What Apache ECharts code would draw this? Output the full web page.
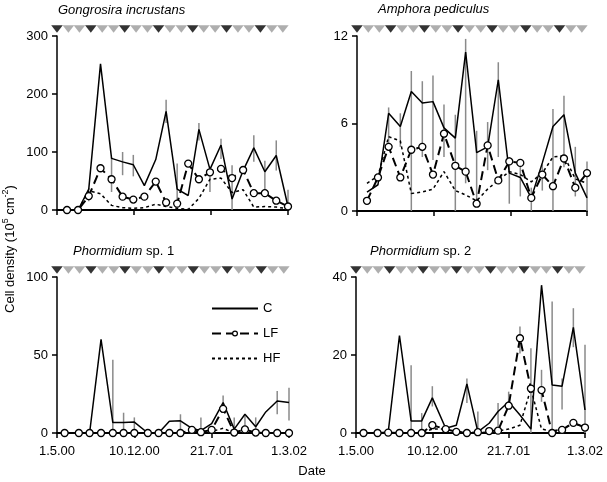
<!DOCTYPE html>
<html>
<head>
<meta charset="utf-8">
<script src="https://cdn.jsdelivr.net/npm/echarts@6/dist/echarts.min.js"></script>
<style>html,body{margin:0;padding:0;background:#fff}#c{width:607px;height:482px}</style>
</head>
<body>
<div id="c"></div>
<script>
// ---- data ----
const tickDays = [0, 223, 446, 669];
const tickLabels = ['1.5.00', '10.12.00', '21.7.01', '1.3.02'];
const daysTop = [29, 61, 92, 126, 158, 190, 221, 253, 286, 316, 348, 380, 411, 443, 475, 507, 539, 570, 602, 635, 669];
const daysBottom = [22, 63, 94, 127, 161, 192, 223, 262, 293, 324, 356, 389, 415, 446, 479, 511, 542, 573, 602, 635, 669];
const trigDays = [0, 33, 65, 98, 131, 164, 196, 229, 262, 294, 327, 360, 393, 425, 458, 491, 524, 556, 589, 622, 654];
const trigKind = ['b','g','g','b','g','g','b','g','g','b','g','g','b','g','g','b','g','g','b','g','g'];
const seriesNames = ['C', 'LF', 'HF'];

const gonC  = [0, 0, 36, 252, 89, 83, 78, 42, 87, 170, 36, 25, 139, 70, 112, 19, 68, 107, 66, 94, 6];
const gonLF = [0, 0, 24, 72, 53, 23, 18, 23, 49, 13, 11, 80, 53, 65, 71, 55, 69, 29, 29, 16, 6];
const gonHF = [0, 0, 33, 28, 8, 4, 3, 4, 10, 6, 3, 1, 20, 53, 55, 30, 35, 5, 6, 5, 2];
const gonErr = [[2,15,38],[4,31,91],[5,60,100],[6,58,95],[9,150,190],[10,7,80],[12,120,150],[13,31,71],[14,88,123],[15,0,77],[17,83,129],[18,31,85],[19,68,120],[20,0,35]];

const ampC  = [1.3, 1.8, 6.7, 5.8, 8.2, 7.4, 7.5, 5.7, 5.0, 10.9, 4.0, 4.4, 9.0, 2.6, 2.3, 0.9, 3.3, 5.8, 6.6, 2.6, 0.9];
const ampLF = [0.7, 2.3, 4.4, 2.3, 4.2, 4.4, 2.5, 5.3, 3.1, 2.7, 0.5, 4.5, 2.1, 3.4, 3.3, 0.9, 2.5, 1.7, 3.6, 1.6, 2.6];
const ampHF = [1.9, 2.4, 5.1, 4.8, 1.2, 1.3, 1.5, 2.7, 1.4, 1.1, 0.7, 1.5, 2.1, 2.7, 2.5, 2.0, 2.6, 3.7, 3.8, 2.2, 1.9];
const ampErr = [[2,4.3,7.1],[3,4.4,6.7],[4,0,9.6],[5,3.7,8.9],[6,3.5,9.3],[7,3.7,7.3],[8,0,6.6],[9,1.9,11.8],[10,0.7,5.5],[11,2.8,6.1],[12,3.7,10.2],[13,0.5,3.7],[14,1.0,3.5],[15,0,1.6],[16,1.4,3.2],[17,0,7.0],[18,3.0,7.9],[19,1.0,4.4],[20,0,3.4]];

const ph1C  = [0, 0, 0, 60, 6.7, 6.7, 7, 0, 0, 7.5, 7.8, 3, 1.5, 6, 19.5, 2.5, 12, 4, 13.5, 20.5, 19.5];
const ph1LF = [0, 0, 0, 0, 0, 0, 0, 0, 0, 0, 0, 2, 0.5, 2, 15.5, 0.3, 2.3, 0.3, 0, 0, 0];
const ph1HF = [0, 0, 0, 0, 0, 0, 0, 0, 0, 0, 0, 0, 0, 1, 3, 0, 1, 0, 0, 0, 0];
const ph1Err = [[4,0,47],[5,0,13],[6,0,10],[10,0,12],[12,0,10],[14,16,24],[15,0,10],[16,0,11],[17,0,10],[19,12,27],[20,8,29]];

const ph2C  = [0, 0, 0.2, 25, 3.1, 3.1, 9.0, 1.2, 2.0, 12.6, 0.3, 2.5, 5.5, 8.0, 4.6, 1.0, 37.9, 12.3, 12.0, 27.1, 5.9];
const ph2LF = [0, 0, 0.1, 0, 0, 0, 2.0, 1.0, 0.3, 0, 0.2, 0.5, 0.6, 7.0, 24.3, 11.4, 11.0, 0, 0.8, 2.6, 1.4];
const ph2HF = [0, 0, 0, 0, 0, 0, 1, 1, 0.5, 0, 0, 0.3, 0.5, 1, 2, 11.4, 1, 0.5, 1, 2.5, 1.5];
const ph2Err = [[4,0,17.4],[5,0,5.1],[6,6.8,12],[9,7.7,14],[10,0,5.5],[12,1.7,7.7],[13,6.3,10.6],[14,20.4,27.3],[15,0,21.7],[16,8,16.2],[17,0,33.7],[18,6,14],[19,22,32],[20,0,22.6]];

// ---- chart ----
const FONT = 'Liberation Sans, Arial, sans-serif';
const panels = [
  {grid:{left:57, top:36, width:231, height:174}, max:300, interval:100, days:daysTop, C:gonC, LF:gonLF, HF:gonHF, err:gonErr, xl:false},
  {grid:{left:357, top:36, width:230, height:175}, max:12, interval:6, days:daysTop, C:ampC, LF:ampLF, HF:ampHF, err:ampErr, xl:false},
  {grid:{left:57, top:277, width:232, height:156}, max:100, interval:50, days:daysBottom, C:ph1C, LF:ph1LF, HF:ph1HF, err:ph1Err, xl:true},
  {grid:{left:356, top:277, width:229, height:156}, max:40, interval:20, days:daysBottom, C:ph2C, LF:ph2LF, HF:ph2HF, err:ph2Err, xl:true}
];

const grids = [], xAxes = [], yAxes = [], series = [];
panels.forEach((p, i) => {
  grids.push(Object.assign({containLabel:false}, p.grid));
  xAxes.push({
    type:'value', gridIndex:i, min:0, max:669, interval:223,
    axisLine:{show:true, onZero:false, lineStyle:{color:'#000', width:2}},
    axisTick:{show:true, length:5, lineStyle:{color:'#000', width:1.5}},
    axisLabel:{show:p.xl, margin:12, color:'#000', fontSize:13, fontFamily:FONT,
      formatter: v => { const k = tickDays.indexOf(Math.round(v)); return k >= 0 ? tickLabels[k] : ''; }},
    splitLine:{show:false}
  });
  yAxes.push({
    type:'value', gridIndex:i, min:0, max:p.max, interval:p.interval,
    axisLine:{show:true, lineStyle:{color:'#000', width:1.5}},
    axisTick:{show:true, length:5, lineStyle:{color:'#000', width:1.5}},
    axisLabel:{margin:9, color:'#000', fontSize:13, fontFamily:FONT},
    splitLine:{show:false}
  });
  series.push({
    type:'custom', xAxisIndex:i, yAxisIndex:i, silent:true, z:1,
    data: p.err.map(e => [p.days[e[0]], e[1], e[2]]),
    encode:{x:0, y:[1,2]},
    renderItem: (params, api) => {
      const a = api.coord([api.value(0), api.value(1)]);
      const b = api.coord([api.value(0), api.value(2)]);
      return {type:'line', shape:{x1:a[0], y1:a[1], x2:b[0], y2:b[1]}, style:{stroke:'#8a8a8a', lineWidth:1.5}};
    }
  });
  series.push({
    type:'line', name:seriesNames[2], xAxisIndex:i, yAxisIndex:i, z:2,
    data: p.days.map((d, k) => [d, p.HF[k]]), symbol:'none',
    lineStyle:{color:'#000', width:1.5, type:[3,3]}, itemStyle:{color:'#000'}
  });
  series.push({
    type:'line', name:seriesNames[0], xAxisIndex:i, yAxisIndex:i, z:3,
    data: p.days.map((d, k) => [d, p.C[k]]), symbol:'none',
    lineStyle:{color:'#000', width:1.5}, itemStyle:{color:'#000'}
  });
  series.push({
    type:'line', name:seriesNames[1], xAxisIndex:i, yAxisIndex:i, z:4,
    data: p.days.map((d, k) => [d, p.LF[k]]), symbol:'circle', symbolSize:7, showAllSymbol:true,
    lineStyle:{color:'#000', width:2, type:[9,5]},
    itemStyle:{color:'#fff', borderColor:'#000', borderWidth:1.3}
  });
  series.push({
    type:'scatter', xAxisIndex:i, yAxisIndex:i, silent:true, clip:false, z:5,
    symbol:'triangle', symbolRotate:180, symbolSize:[11.6, 7.5], symbolOffset:[0, -7],
    data: trigDays.map((d, k) => ({value:[d, p.max], itemStyle:{color: trigKind[k] === 'b' ? '#000' : '#9a9a9a'}}))
  });
});

const titleStyle = {fontSize:13, fontWeight:'normal', color:'#000', fontFamily:FONT};
const chart = echarts.init(document.getElementById('c'), null, {renderer:'canvas'});
chart.setOption({
  animation:false,
  backgroundColor:'#fff',
  textStyle:{fontFamily:FONT},
  title:[
    {text:'Gongrosira incrustans', left:58, top:4, padding:0, textStyle:Object.assign({fontStyle:'italic'}, titleStyle)},
    {text:'Amphora pediculus', left:378, top:3, padding:0, textStyle:Object.assign({fontStyle:'italic'}, titleStyle)},
    {text:'{i|Phormidium} sp. 1', left:73, top:245, padding:0, textStyle:Object.assign({rich:{i:{fontStyle:'italic', fontSize:13, color:'#000', fontFamily:FONT}}}, titleStyle)},
    {text:'{i|Phormidium} sp. 2', left:370, top:245, padding:0, textStyle:Object.assign({rich:{i:{fontStyle:'italic', fontSize:13, color:'#000', fontFamily:FONT}}}, titleStyle)}
  ],
  legend:{
    data:[
      {name:'C', itemStyle:{opacity:0}},
      {name:'LF', itemStyle:{color:'#fff', borderColor:'#000', borderWidth:1.2}},
      {name:'HF', itemStyle:{opacity:0}}
    ],
    orient:'vertical', left:211, top:302, padding:0, itemWidth:46, itemHeight:6, itemGap:12,
    textStyle:{fontSize:13, color:'#000', fontFamily:FONT}
  },
  grid:grids, xAxis:xAxes, yAxis:yAxes, series:series,
  graphic:[
    {type:'text', x:10, y:249, rotation:Math.PI/2,
      style:{text:'Cell density (10{s|5} cm{s|-2})', font:'13px ' + FONT, fill:'#000', align:'center', verticalAlign:'middle',
        rich:{s:{fontSize:9, verticalAlign:'top', lineHeight:18, fontFamily:FONT}}}},
    {type:'text', x:312, y:471, style:{text:'Date', font:'13px ' + FONT, fill:'#000', align:'center', verticalAlign:'middle'}}
  ]
});
</script>
</body>
</html>
